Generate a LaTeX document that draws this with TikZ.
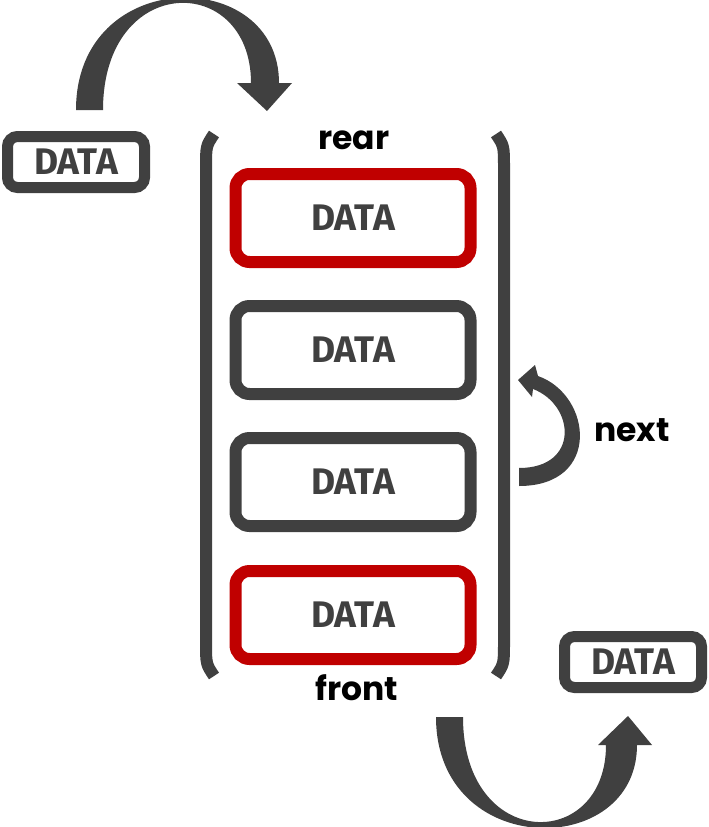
\documentclass[tikz,border=0pt]{standalone}
\usepackage{fontspec}
\setmainfont{Fira Sans}
\newfontfamily\lblfont{Poppins}
\usepackage{tikz}
\usetikzlibrary{arrows.meta}

\definecolor{dgray}{HTML}{404040}
\definecolor{dred}{HTML}{C00000}

\begin{document}
\begin{tikzpicture}[x=1pt, y=-1pt,
    qbox/.style = {draw=dgray, line width=12pt, rounded corners=14pt,
      minimum width=235pt, minimum height=88pt, text=dgray,
      font=\fontsize{37}{42}\selectfont\bfseries},
    endbox/.style = {qbox, draw=dred},
    sidebox/.style = {qbox, line width=11pt, rounded corners=10pt,
      minimum width=137pt, minimum height=51pt},
    lbl/.style = {font=\lblfont\fontsize{33}{38}\selectfont\bfseries},
    band/.style = {fill=dgray},
    brak/.style = {draw=dgray, line width=12pt}]
        \useasboundingbox (0,0) rectangle (709,827);
        \node[sidebox] (in) at (76,162) {DATA};
        \node[endbox] (q1) at (353,218) {DATA};
        \node[qbox] (q2) at (353,350) {DATA};
        \node[qbox] (q3) at (353,482) {DATA};
        \node[endbox] (q4) at (353,615) {DATA};
        \node[sidebox] (out) at (633,662) {DATA};
        \node[lbl] (rear) at (354,140) {rear};
        \node[lbl] (front) at (357,688) {front};
        \node[lbl] (next) at (632,430) {next};
        % queue brackets
        \draw[brak] (214,134) .. controls (206,146) .. (206,168) -- (206,642) .. controls (206,664) .. (214,676);
        \draw[brak] (496,134) .. controls (504,146) .. (504,168) -- (504,642) .. controls (504,664) .. (496,676);
        % enqueue
        \fill[band] (76,110) .. controls (76,-35) and (279,-35) .. (279,83)
          -- (292,83) -- (267,111) -- (237,83) -- (251,83)
          .. controls (251,-28) and (103,-28) .. (103,110) -- cycle;
        % dequeue
        \fill[band] (436,717) .. controls (436,860) and (637,860) .. (637,745)
          -- (652,745) -- (628,716) -- (598,745) -- (606,745)
          .. controls (606,852) and (463,852) .. (463,717) -- cycle;
        % next pointer
        \fill[band] (519,486) .. controls (602,486) and (592,395) .. (538,376)
          -- (535,365) -- (518,380) -- (532,397) -- (533,389)
          .. controls (575,405) and (580,468) .. (519,468) -- cycle;
      \end{tikzpicture}
\end{document}
